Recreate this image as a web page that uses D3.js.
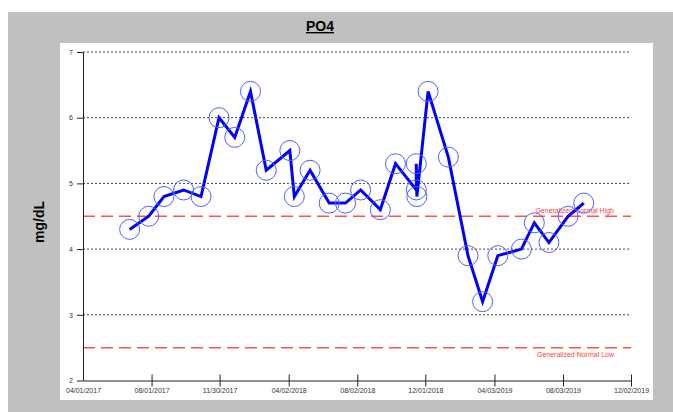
<!DOCTYPE html>
<html lang="en">
  <head>
    <meta charset="utf-8">
    <style>
      body { margin: 0; background: #fff; }
      text { font-family: "Liberation Sans", Arial, sans-serif; }
      .tick text { fill: #333; font-size: 7px; }
    </style>
  </head>
  <body>
    <script src="https://cdn.jsdelivr.net/npm/d3@7"></script>
    <script>
      // data
      var dates = ["2017-06-23", "2017-07-27", "2017-08-23", "2017-09-27", "2017-10-28",
        "2017-11-29", "2017-12-27", "2018-01-24", "2018-02-21", "2018-04-04", "2018-04-12",
        "2018-05-10", "2018-06-13", "2018-07-12", "2018-08-08", "2018-09-12", "2018-10-09",
        "2018-11-15", "2018-11-15", "2018-11-16", "2018-12-06", "2019-01-11", "2019-02-15",
        "2019-03-13", "2019-04-09", "2019-05-21", "2019-06-13", "2019-07-09", "2019-08-12",
        "2019-09-09"];
      var values = [4.3, 4.5, 4.8, 4.9, 4.8,
        6.0, 5.7, 6.4, 5.2, 5.5, 4.8,
        5.2, 4.7, 4.7, 4.9, 4.6, 5.3,
        4.9, 5.3, 4.8, 6.4, 5.4, 3.9,
        3.2, 3.9, 4.0, 4.4, 4.1, 4.5,
        4.7];
      var yTicks = [2, 3, 4, 5, 6, 7];
      var xTickLabels = ["04/01/2017", "08/01/2017", "11/30/2017", "04/02/2018", "08/02/2018",
        "12/01/2018", "04/03/2019", "08/03/2019", "12/02/2019"];
      var limits = [4.5, 2.5];
      var limitNames = ["Generalized Normal High", "Generalized Normal Low"];

      var parse = d3.timeParse("%Y-%m-%d");
      var parseTick = d3.timeParse("%m/%d/%Y");
      var data = dates.map(function(d, i) { return {date: parse(d), value: values[i]}; });

      var width = 673, height = 412;
      var svg = d3.select("body").append("svg")
        .attr("width", width)
        .attr("height", height);

      // grey frame and white plot panel
      svg.append("rect").attr("x", 8).attr("y", 12).attr("width", 665).attr("height", 400).attr("fill", "#c0c0c0");
      svg.append("rect").attr("x", 60).attr("y", 43).attr("width", 593).attr("height", 357).attr("fill", "#fff");

      var x = d3.scaleTime()
        .domain([parseTick(xTickLabels[0]), parseTick(xTickLabels[xTickLabels.length - 1])])
        .range([83, 631]);
      var y = d3.scaleLinear().domain([2, 7]).range([380.5, 52]);

      // title
      svg.append("text")
        .attr("x", 320).attr("y", 31)
        .attr("text-anchor", "middle")
        .attr("font-size", "14px").attr("font-weight", "bold")
        .attr("text-decoration", "underline")
        .text("PO4");

      // y label
      svg.append("text")
        .attr("transform", "translate(44,222) rotate(-90)")
        .attr("text-anchor", "middle")
        .attr("font-size", "14px").attr("font-weight", "bold")
        .text("mg/dL");

      // dotted grid
      svg.selectAll(".grid")
        .data(yTicks.slice(1))
        .enter().append("line")
        .attr("class", "grid")
        .attr("x1", 83).attr("x2", 631)
        .attr("y1", function(d) { return y(d); })
        .attr("y2", function(d) { return y(d); })
        .attr("stroke", "#444").attr("stroke-width", 1)
        .attr("stroke-dasharray", "2,2");

      // normal limits
      svg.selectAll(".limit")
        .data(limits)
        .enter().append("line")
        .attr("class", "limit")
        .attr("x1", 83).attr("x2", 631)
        .attr("y1", function(d) { return y(d); })
        .attr("y2", function(d) { return y(d); })
        .attr("stroke", "#ff5050").attr("stroke-width", 1.5)
        .attr("stroke-dasharray", "12,6");

      svg.selectAll(".limitlabel")
        .data(limits)
        .enter().append("text")
        .attr("class", "limitlabel")
        .attr("x", 614)
        .attr("y", function(d, i) { return i == 0 ? y(d) - 3 : y(d) + 9; })
        .attr("text-anchor", "end")
        .attr("font-size", "7px")
        .attr("fill", "#ff4040")
        .text(function(d, i) { return limitNames[i]; });

      // axes
      var yAxis = svg.append("g")
        .attr("transform", "translate(83,0)")
        .call(d3.axisLeft(y).tickValues(yTicks).tickSize(6).tickSizeOuter(0).tickPadding(4).tickFormat(d3.format("d")));

      var xAxis = svg.append("g")
        .attr("transform", "translate(0,380.5)")
        .call(d3.axisBottom(x).tickValues(xTickLabels.map(parseTick)).tickSizeOuter(0)
          .tickFormat(d3.timeFormat("%m/%d/%Y")));
      xAxis.selectAll(".tick line").attr("y1", -6).attr("y2", 6);
      xAxis.selectAll(".tick text").attr("y", 8);
      xAxis.select(".tick line").remove();

      svg.selectAll(".domain").attr("stroke", "#222");
      svg.selectAll(".tick line").attr("stroke", "#222");

      // line and circles
      var line = d3.line()
        .x(function(d) { return x(d.date); })
        .y(function(d) { return y(d.value); });

      svg.append("path")
        .datum(data)
        .attr("d", line)
        .attr("fill", "none")
        .attr("stroke", "#0000ff")
        .attr("stroke-width", 3)
        .attr("stroke-linejoin", "miter");

      svg.selectAll(".dot")
        .data(data)
        .enter().append("circle")
        .attr("class", "dot")
        .attr("cx", function(d) { return x(d.date); })
        .attr("cy", function(d) { return y(d.value); })
        .attr("r", 10)
        .attr("fill", "none")
        .attr("stroke", "#5060ff")
        .attr("stroke-width", 1);
    </script>
  </body>
</html>
